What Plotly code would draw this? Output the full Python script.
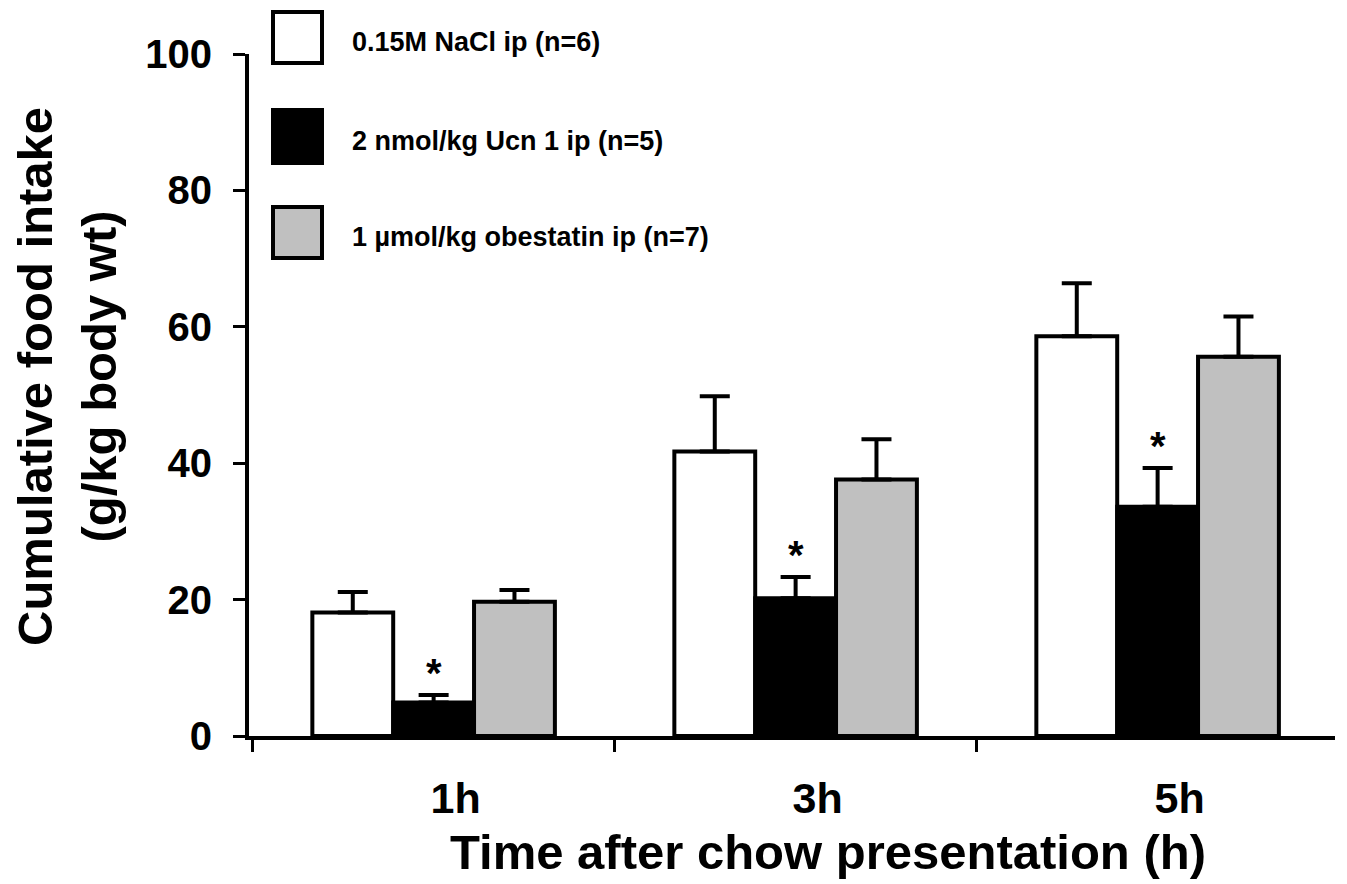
import plotly.graph_objects as go

# ---------------- data ----------------
categories = ["1h", "3h", "5h"]
series_names = ["0.15M NaCl ip (n=6)", "2 nmol/kg Ucn 1 ip (n=5)", "1 µmol/kg obestatin ip (n=7)"]
nacl_mean = [18.1, 41.7, 58.6]
nacl_sem = [3.0, 8.1, 7.8]
ucn_mean = [4.9, 20.2, 33.6]
ucn_sem = [1.1, 3.1, 5.7]
obest_mean = [19.7, 37.6, 55.6]
obest_sem = [1.7, 5.9, 5.9]
ucn_significant = [True, True, True]
y_ticks = [0, 20, 40, 60, 80, 100]

colors = ["#FFFFFF", "#000000", "#C0C0C0"]
FONT = "Liberation Sans, Arial, sans-serif"

# layout geometry (pixels)
W, H = 1347, 884
ML, MR, MT, MB = 249, 12, 54, 148
PW, PH = W - ML - MR, H - MT - MB


def px_x(px):
    return (px - ML) / PW


def px_y(py):
    return (H - MB - py) / PH


fig = go.Figure()
means = [nacl_mean, ucn_mean, obest_mean]
sems = [nacl_sem, ucn_sem, obest_sem]
for name, m, s, c in zip(series_names, means, sems, colors):
    fig.add_trace(go.Bar(
        x=categories, y=m, name=name,
        marker=dict(color=c, line=dict(color="black", width=4)),
        error_y=dict(type="data", array=s, arrayminus=[0] * len(s), symmetric=False,
                     color="black", thickness=4, width=15),
        showlegend=False,
    ))

# significance stars above the Ucn bars
for cat, m, s, sig in zip(categories, ucn_mean, ucn_sem, ucn_significant):
    if sig:
        fig.add_annotation(x=cat, y=m + s, text="*", showarrow=False,
                           xref="x", yref="y", yanchor="bottom", yshift=-2,
                           font=dict(family=FONT, size=40, color="black", weight="bold"))

# manual legend (large squares)
leg_boxes = [(12, 63), (110, 163), (207, 258)]
for (top, bot), name, c in zip(leg_boxes, series_names, colors):
    fig.add_shape(type="rect", xref="paper", yref="paper",
                  x0=px_x(273), x1=px_x(322), y0=px_y(bot), y1=px_y(top),
                  fillcolor=c, line=dict(color="black", width=4))
    fig.add_annotation(x=px_x(350), y=px_y((top + bot) / 2 + 4), xref="paper", yref="paper",
                       text=name, showarrow=False, xanchor="left", yanchor="middle",
                       font=dict(family=FONT, size=27, color="black", weight="bold"))

# y-axis title (two lines)
fig.add_annotation(x=px_x(67), y=px_y(377), xref="paper", yref="paper",
                   text="Cumulative food intake<br>(g/kg body wt)", showarrow=False,
                   textangle=-90, xanchor="center", yanchor="middle",
                   font=dict(family=FONT, size=49, color="black", weight="bold"))
# x-axis title
fig.add_annotation(x=px_x(828), y=px_y(852), xref="paper", yref="paper",
                   text="Time after chow presentation (h)", showarrow=False,
                   xanchor="center", yanchor="middle",
                   font=dict(family=FONT, size=49, color="black", weight="bold"))

fig.update_layout(
    width=W, height=H,
    margin=dict(l=ML, r=MR, t=MT, b=MB),
    paper_bgcolor="white", plot_bgcolor="white",
    barmode="group", bargap=0.33, bargroupgap=0,
    xaxis=dict(range=[-0.51, 2.49], showline=True, linecolor="black", linewidth=4,
               ticks="outside", ticklen=12, tickwidth=3, tickcolor="black",
               tickson="boundaries", showgrid=False, zeroline=False,
               ticklabelshift=22, ticklabelstandoff=21,
               tickfont=dict(family=FONT, size=43, color="black", weight="bold")),
    yaxis=dict(range=[0, 100], tickvals=y_ticks, showline=True, linecolor="black", linewidth=4,
               ticks="outside", ticklen=12, tickwidth=3, tickcolor="black",
               showgrid=False, zeroline=False, ticklabelstandoff=13,
               tickfont=dict(family=FONT, size=40, color="black", weight="bold")),
)

fig.write_html("out.html", config={"displayModeBar": False},
               post_script="document.body.style.margin='0';document.body.style.overflow='hidden';")
